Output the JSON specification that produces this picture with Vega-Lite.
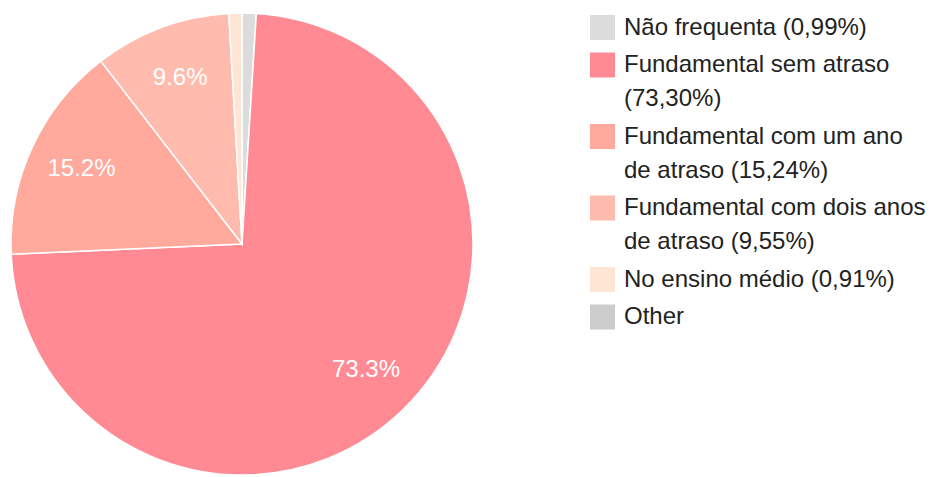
{
  "$schema": "https://vega.github.io/schema/vega-lite/v6.json",
  "width": 484,
  "height": 466,
  "autosize": {"type": "none"},
  "padding": {"left": 0, "top": 11, "right": 451, "bottom": 0},
  "background": "#ffffff",
  "config": {"view": {"stroke": null}, "style": {"guide-label": {"lineHeight": 34}}},
  "data": {
    "values": [
      {"ordem": 1, "categoria": "Não frequenta (0,99%)", "share": 0.0099},
      {"ordem": 2, "categoria": "Fundamental sem atraso (73,30%)", "share": 0.7330},
      {"ordem": 3, "categoria": "Fundamental com um ano de atraso (15,24%)", "share": 0.1524},
      {"ordem": 4, "categoria": "Fundamental com dois anos de atraso (9,55%)", "share": 0.0955},
      {"ordem": 5, "categoria": "No ensino médio (0,91%)", "share": 0.0091},
      {"ordem": 6, "categoria": "Other", "share": 0}
    ]
  },
  "encoding": {
    "theta": {"field": "share", "type": "quantitative", "stack": true},
    "order": {"field": "ordem", "type": "quantitative"}
  },
  "layer": [
    {
      "mark": {"type": "arc", "outerRadius": 231, "stroke": "#ffffff", "strokeWidth": 1.5},
      "encoding": {
        "color": {
          "field": "categoria",
          "type": "nominal",
          "scale": {
            "domain": ["Não frequenta (0,99%)", "Fundamental sem atraso (73,30%)", "Fundamental com um ano de atraso (15,24%)", "Fundamental com dois anos de atraso (9,55%)", "No ensino médio (0,91%)", "Other"],
            "range": ["#dcdcdc", "#ff8a93", "#ffaa9c", "#ffbcae", "#ffe6d4", "#cccccc"]
          },
          "legend": {
            "title": null,
            "orient": "none",
            "legendX": 590,
            "legendY": 4,
            "symbolType": "square",
            "symbolSize": 625,
            "symbolStrokeWidth": 0,
            "symbolOpacity": 1,
            "labelFont": "Liberation Sans",
            "labelFontSize": 24,
            "labelColor": "#222222",
            "labelOffset": 9,
            "labelLimit": 400,
            "rowPadding": 12.5,
            "labelExpr": "datum.label == 'Fundamental sem atraso (73,30%)' ? ['Fundamental sem atraso', '(73,30%)'] : datum.label == 'Fundamental com um ano de atraso (15,24%)' ? ['Fundamental com um ano', 'de atraso (15,24%)'] : datum.label == 'Fundamental com dois anos de atraso (9,55%)' ? ['Fundamental com dois anos', 'de atraso (9,55%)'] : datum.label"
          }
        }
      }
    },
    {
      "mark": {"type": "text", "radius": 177, "color": "#ffffff", "font": "Liberation Sans", "fontSize": 24, "align": "center", "baseline": "middle"},
      "encoding": {
        "text": {
          "condition": {"test": "datum.share > 0.05", "field": "share", "type": "quantitative", "format": ".1%"},
          "value": ""
        }
      }
    }
  ]
}
